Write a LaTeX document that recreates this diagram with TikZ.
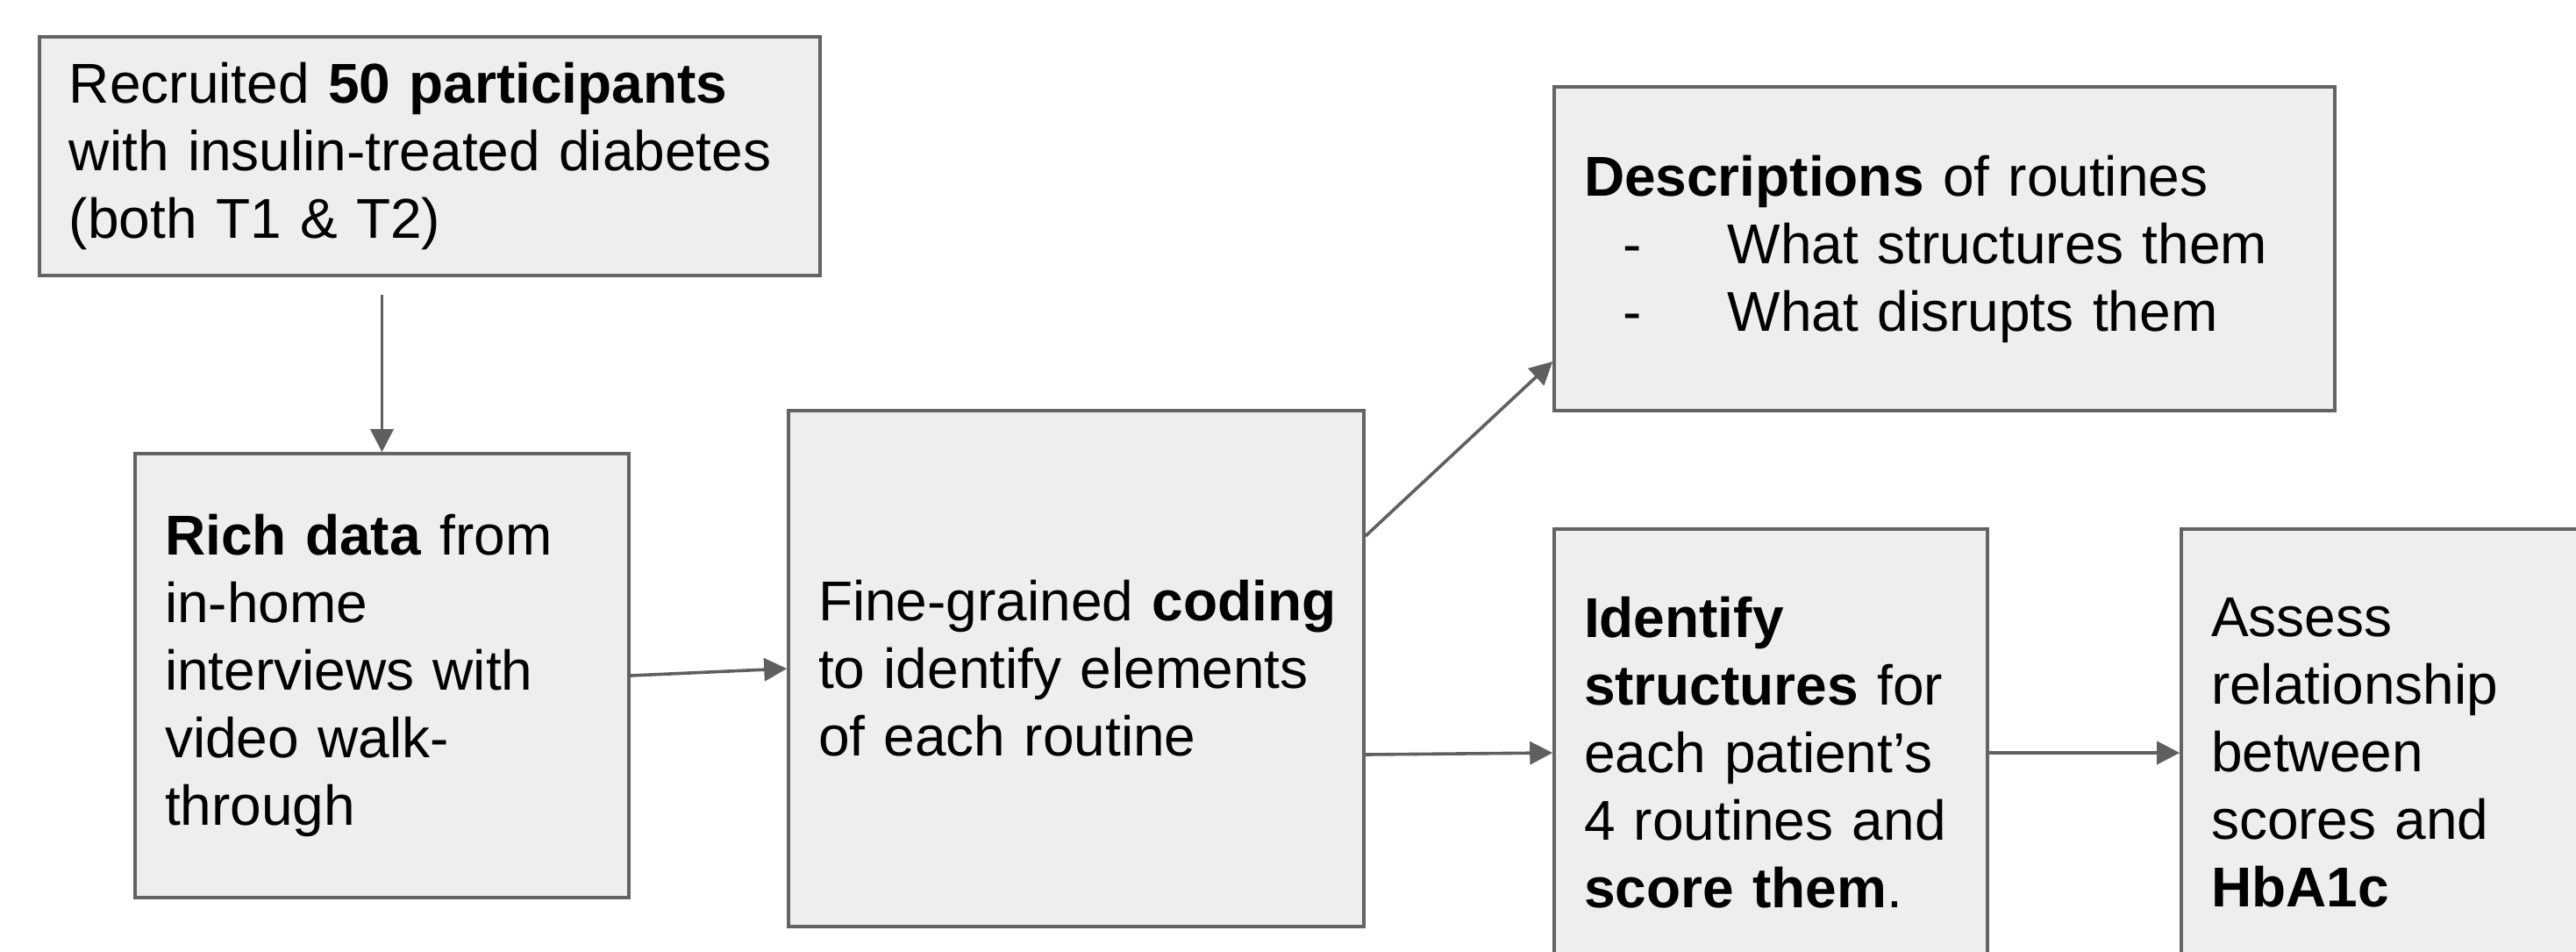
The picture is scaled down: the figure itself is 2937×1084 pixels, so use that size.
\documentclass[tikz,border=0pt]{standalone}
\usepackage{fontspec}
\setmainfont{Liberation Sans}
\usetikzlibrary{arrows.meta}
\definecolor{boxfill}{HTML}{EEEEEE}
\definecolor{boxline}{HTML}{636363}
\definecolor{arrline}{HTML}{5F5F5F}
\begin{document}
\begin{tikzpicture}[x=0.25pt,y=-0.25pt,
  box/.style={draw=boxline,fill=boxfill,line width=0.9pt,align=left,
    inner xsep=8.5pt,inner ysep=0pt,anchor=center,
    font={\fontsize{16}{19.25}\selectfont}},
  arr/.style={draw=arrline,line width=0.9pt,-{Triangle[length=6.5pt,width=6.5pt]}}]
\useasboundingbox (0,0) rectangle (2937,1084);
\node[box,text width=205.5pt,minimum height=68pt] (b1) at (490,178)
  {Recruited \textbf{50 participants}\\with insulin-treated diabetes\\(both T1 \& T2)};
\node[box,text width=123.75pt,minimum height=126.5pt] (b2) at (435.5,770)
  {\textbf{Rich data} from\\in-home\\interviews with\\video walk-\\through};
\node[box,text width=147pt,minimum height=147pt] (b3) at (1227,762)
  {\mbox{Fine-grained \textbf{coding}}\\to identify elements\\of each routine};
\node[box,text width=205.5pt,minimum height=92.25pt] (b4) at (2217,283.5)
  {\textbf{Descriptions} of routines\\\hspace*{11pt}\makebox[30pt][l]{-}What structures them\\\hspace*{11pt}\makebox[30pt][l]{-}What disrupts them};
\node[box,text width=106.5pt,minimum height=127.5pt] (b5) at (2019,858)
  {\textbf{Identify}\\\textbf{structures} for\\each patient’s\\4 routines and\\\textbf{score them}.};
\node[box,text width=106.5pt,minimum height=127.5pt] (b6) at (2734,858)
  {Assess\\relationship\\between\\scores and\\\textbf{HbA1c}};
\draw[arr] ([yshift=-5pt]b1.south -| b2.north) -- (b2.north);
\draw[arr] (b2.east |- 0,770) -- (b3.west |- 0,762);
\draw[arr] (b3.east |- 0,611) -- (b4.west |- 0,412);
\draw[arr] (b3.east |- 0,860) -- (b5.west |- 0,858);
\draw[arr] (b5.east |- 0,858) -- (b6.west |- 0,858);
\end{tikzpicture}
\end{document}
